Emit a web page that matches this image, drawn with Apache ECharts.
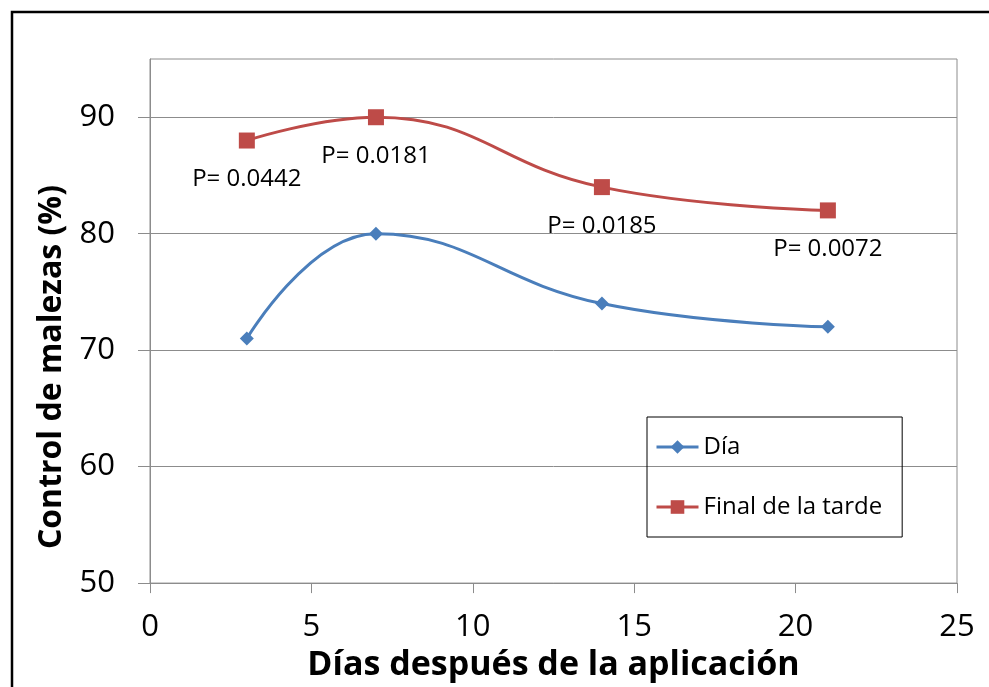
<!DOCTYPE html>
<html>
<head>
<meta charset="utf-8">
<script src="https://cdn.jsdelivr.net/npm/echarts@6/dist/echarts.min.js"></script>
<style>html,body{margin:0;padding:0;background:#fff}#c{width:989px;height:687px}</style>
</head>
<body>
<div id="c"></div>
<script>
const days = [3, 7, 14, 21];
const dia = [71, 80, 74, 72];
const tarde = [88, 90, 84, 82];
const pLabels = ['P= 0.0442', 'P= 0.0181', 'P= 0.0185', 'P= 0.0072'];
const yTicks = [50, 60, 70, 80, 90];
const xTicks = [0, 5, 10, 15, 20, 25];

const FONT = '"Open Sans", "Noto Sans", sans-serif';
const chart = echarts.init(document.getElementById('c'));
chart.setOption({
  animation: false,
  backgroundColor: '#fff',
  graphic: [{
    type: 'rect', shape: {x: 12, y: 12, width: 1100, height: 800},
    style: {fill: 'none', stroke: '#000', lineWidth: 2.5}, z: 100, silent: true
  }],
  grid: {left: 150, right: 32, top: 59, bottom: 102, show: true, borderColor: '#8c8c8c', borderWidth: 1},
  legend: {
    left: 647, top: 417, orient: 'vertical',
    padding: [18, 20, 18, 8], itemGap: 36,
    borderColor: '#000', borderWidth: 1,
    itemWidth: 42, itemHeight: 17,
    lineStyle: {width: 3},
    textStyle: {fontFamily: FONT, fontSize: 24, color: '#000'},
    data: ['Día', 'Final de la tarde']
  },
  xAxis: {
    type: 'value', min: 0, max: 25, interval: 5,
    name: 'Días después de la aplicación', nameLocation: 'middle', nameGap: 64,
    nameTextStyle: {fontFamily: FONT, fontSize: 34, fontWeight: 'bold', color: '#000'},
    axisLine: {show: true, lineStyle: {color: '#8c8c8c', width: 1}},
    axisTick: {show: true, length: 10, lineStyle: {color: '#8c8c8c'}, customValues: xTicks},
    axisLabel: {margin: 29, fontFamily: FONT, fontSize: 31, color: '#000', customValues: xTicks},
    splitLine: {show: false}
  },
  yAxis: {
    type: 'value', min: 50, max: 95, interval: 10,
    name: 'Control de malezas (%)', nameLocation: 'middle', nameGap: 82,
    nameTextStyle: {fontFamily: FONT, fontSize: 32, fontWeight: 'bold', color: '#000', padding: [0, 92, 0, 0]},
    axisLine: {show: true, lineStyle: {color: '#8c8c8c', width: 1}},
    axisTick: {show: true, inside: false, length: 12, lineStyle: {color: '#8c8c8c'}, customValues: yTicks},
    axisLabel: {margin: 35, fontFamily: FONT, fontSize: 31, color: '#000', customValues: yTicks},
    splitLine: {show: true, lineStyle: {color: '#8c8c8c', width: 1}}
  },
  series: [
    {
      name: 'Día', type: 'line', smooth: 0.45,
      data: days.map((d, i) => [d, dia[i]]),
      symbol: 'diamond', symbolSize: 14,
      lineStyle: {color: '#4a7ebb', width: 3},
      itemStyle: {color: '#4a7ebb'}
    },
    {
      name: 'Final de la tarde', type: 'line', smooth: 0.45,
      data: days.map((d, i) => ({value: [d, tarde[i]], label: {show: true, formatter: pLabels[i]}})),
      symbol: 'rect', symbolSize: 16,
      lineStyle: {color: '#be4b48', width: 3},
      itemStyle: {color: '#be4b48'},
      label: {position: 'inside', offset: [0, 39], fontFamily: FONT, fontSize: 24, color: '#000'}
    }
  ]
});
</script>
</body>
</html>
